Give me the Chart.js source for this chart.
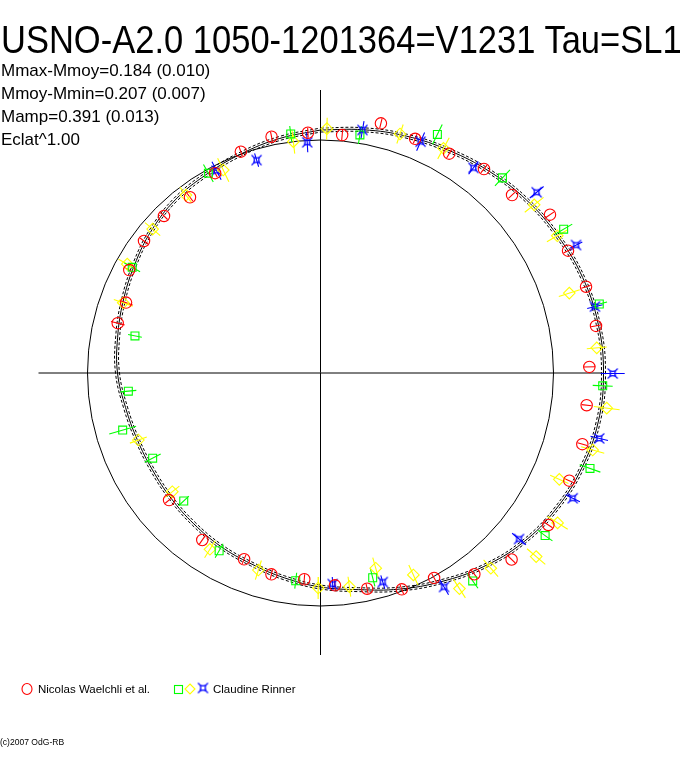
<!DOCTYPE html>
<html><head><meta charset="utf-8">
<script src="https://cdn.jsdelivr.net/npm/chart.js@4"></script>
<style>
html,body{margin:0;padding:0;background:#fff;}
#wrap{position:relative;width:688px;height:768px;overflow:hidden;background:#fff;}
#c{position:absolute;left:0;top:0;}
.t{position:absolute;white-space:nowrap;font-family:"Liberation Sans",Arial,sans-serif;color:#000;line-height:1;transform-origin:0 0;}
</style></head><body>
<div id="wrap">
<canvas id="c" width="688" height="768"></canvas>
<div class="t" style="left:1px;top:20px;font-size:39px;transform:scaleX(0.885)">USNO-A2.0 1050-1201364=V1231 Tau=SL1</div>
<div class="t" style="left:1px;top:62px;font-size:17px">Mmax-Mmoy=0.184 (0.010)</div>
<div class="t" style="left:1px;top:85px;font-size:17px">Mmoy-Mmin=0.207 (0.007)</div>
<div class="t" style="left:1px;top:108px;font-size:17px">Mamp=0.391 (0.013)</div>
<div class="t" style="left:1px;top:131px;font-size:17px">Eclat^1.00</div>
<div class="t" style="left:38px;top:684px;font-size:11.5px">Nicolas Waelchli et al.</div>
<div class="t" style="left:213px;top:684px;font-size:11.5px">Claudine Rinner</div>
<div class="t" style="left:0px;top:738px;font-size:9px;transform:scaleX(0.95)">(c)2007 OdG-RB</div>
</div>
<script>
// ---- data (phase angle in degrees, clockwise from top; radius in plot units) ----
const REF_RADIUS = 233;
const FIT_PHASE = [0,10,20,30,40,50,60,70,80,90,100,110,120,130,140,150,160,170,180,190,200,210,220,230,240,250,260,270,280,290,300,310,320,330,340,350];
const FIT_R     = [243,247,252,257,263,269,274,279,282,283,282,278,272,264,253,241,230,220,214,208,203,200,197,195,194,195,198,203,206,210,215,221,226,229,233,238];
const FIT_R_LOW = [241,245,250,255,261,267,272,277,280,281,280,276,270,262,251,239,228,218,212,206,201,198,195,193,192,193,196,201,204,208,213,219,224,227,231,236];
const FIT_R_HIGH= [245,249,254,259,265,271,276,281,284,285,284,280,274,266,255,243,232,222,216,210,205,202,199,197,196,197,200,205,208,212,217,223,228,231,235,240];

const WAEL_PHASE = [348.3,357.0,5.2,13.6,22.0,30.4,38.7,47.1,55.4,63.7,72.0,80.3,88.7,96.9,105.2,113.4,123.7,134.3,142.6,151.0,159.4,167.8,176.1,184.5,193.7,202.3,215.3,230.0,283.8,289.9,298.3,306.8,315.1,323.4,332.2,340.2];
const WAEL_R     = [241.3,240.6,239.0,256.9,252.6,254.3,261.4,261.5,278.8,276.1,279.2,279.5,268.9,268.1,271.3,271.1,273.9,267.0,253.3,234.3,231.1,220.7,212.8,206.9,207.2,201.3,204.6,197.7,208.8,206.8,217.2,220.4,221.7,218.9,225.9,235.2];
const WAEL_ERR   = [5,5,5,5,5,5,5,5,5,5,5,5,6,5,5,5,5,5,5,5,5,5,5,5,5,5,5,5,7,7,5,5,5,5,5,5];

const RIN_G_PHASE = [352.9,330.7,299.3,281.3,9.4,26.1,43.0,59.4,76.1,92.6,109.5,125.9,143.8,165.7,186.8,209.7,226.9,243.1,253.9,264.6];
const RIN_G_R     = [240.9,229.1,215.9,189.2,241.3,265.7,266.8,282.5,287.2,282.5,285.9,277.3,257.7,211.3,209.2,204.6,187.3,188.2,205.9,193.0];
const RIN_G_ERR   = [8,10,9,7,9,11,11,10,8,10,11,9,9,9,8,8,7,9,14,8];

const RIN_Y_PHASE = [1.5,353.3,334.4,322.9,310.6,299.4,289.6,18.4,28.7,51.8,59.9,72.2,84.8,97.0,105.8,114.0,122.3,130.4,138.9,147.2,155.3,164.2,172.3,180.6,197.5,212.1,231.3,249.8];
const RIN_Y_R     = [244.4,232.9,225.1,223.1,221.1,221.8,209.4,251.9,256.1,271.9,273.7,261.3,277.4,288.4,282.9,261.4,280.5,283.2,259.1,256.5,222.3,202.9,215.6,215.0,206.6,208.1,189.9,194.1];
const RIN_Y_ERR   = [11,12,13,10,10,10,10,10,12,12,12,11,10,13,12,10,12,12,11,11,11,11,10,11,10,10,9,9];

const RIN_B_PHASE = [356.7,343.3,332.8,9.8,23.4,36.7,50.1,63.4,76.4,90.1,103.2,116.4,129.9,150.0,163.4,176.7];
const RIN_B_R     = [231.1,222.3,227.4,246.6,252.1,255.9,281.8,285.8,282.4,292.2,286.3,281.6,258.8,247.1,218.1,211.4];
const RIN_B_ERR   = [10,7,10,9,10,8,9,7,8,12,9,8,9,9,7,7];

const AXIS_HALF = 282;

// ---- helpers ----
const D2R = Math.PI/180;
function polar(th, r){ return {x: r*Math.sin(th*D2R), y: r*Math.cos(th*D2R)}; }
function pts(ph, r){ return ph.map((t,i)=>polar(t, r[i])); }
function closed(ph, r){ const a = pts(ph, r); a.push(a[0]); return a; }
function errSegs(ph, r, e){
  const out=[];
  ph.forEach((t,i)=>{ out.push(polar(t, r[i]-e[i]), polar(t, r[i]+e[i]), {x:null,y:null}); });
  return out;
}

// blue marker image
function starImg(){
  const s=document.createElement('canvas'); s.width=13; s.height=13;
  const g=s.getContext('2d'); const c=6.5;
  g.strokeStyle='#0000ff'; g.lineWidth=1.1;
  g.beginPath();
  g.moveTo(c-3,c-3); g.quadraticCurveTo(c,c-1.2,c+3,c-3);
  g.quadraticCurveTo(c+1.2,c,c+3,c+3);
  g.quadraticCurveTo(c,c+1.2,c-3,c+3);
  g.quadraticCurveTo(c-1.2,c,c-3,c-3);
  g.moveTo(c-3,c-3); g.lineTo(c-5,c-5);
  g.moveTo(c+3,c-3); g.lineTo(c+5,c-5);
  g.moveTo(c+3,c+3); g.lineTo(c+5,c+5);
  g.moveTo(c-3,c+3); g.lineTo(c-5,c+5);
  g.stroke();
  return s;
}
const STAR = starImg();

const RED='#ff0000', GREEN='#00ff00', YELLOW='#ffff00', BLUE='#0000ff';

const CX=320.5, CY=373, SPAN=312;

const refCircle = {
  id:'refCircle',
  beforeDatasetsDraw(chart){
    const {ctx, scales:{x,y}} = chart;
    const cx=x.getPixelForValue(0), cy=y.getPixelForValue(0);
    const rad=x.getPixelForValue(REF_RADIUS)-cx;
    ctx.save(); ctx.beginPath(); ctx.arc(cx,cy,rad,0,Math.PI*2);
    ctx.strokeStyle='#000'; ctx.lineWidth=1; ctx.stroke(); ctx.restore();
  },
  afterDraw(chart){
    const ctx=chart.ctx; ctx.save(); ctx.lineWidth=1.1;
    // legend glyphs
    ctx.strokeStyle=RED; ctx.beginPath(); ctx.ellipse(27,689,5,5.5,0,0,Math.PI*2); ctx.stroke();
    ctx.strokeStyle=GREEN; ctx.strokeRect(174.5,685.5,8,8);
    ctx.strokeStyle=YELLOW; ctx.beginPath(); ctx.moveTo(190,684); ctx.lineTo(195,689); ctx.lineTo(190,694); ctx.lineTo(185,689); ctx.closePath(); ctx.stroke();
    ctx.drawImage(STAR, 203-6.5, 688-6.5);
    ctx.restore();
  }
};

const line = (data, color, extra) => Object.assign({type:'line', data, borderColor:color, borderWidth:1, pointRadius:0, showLine:true, spanGaps:false, fill:false, tension:0, clip:false}, extra||{});
const marks = (data, color, style, r) => ({type:'scatter', data, pointStyle:style, pointRadius:r, pointBorderColor:color, pointBackgroundColor:'rgba(0,0,0,0)', pointBorderWidth:1.1, showLine:false, clip:false});

new Chart(document.getElementById('c'), {
  data:{datasets:[
    marks(pts(WAEL_PHASE,WAEL_R), RED, 'circle', 5.7),
    marks(pts(RIN_G_PHASE,RIN_G_R), GREEN, 'rect', 5.6),
    marks(pts(RIN_Y_PHASE,RIN_Y_R), YELLOW, 'rectRot', 5.8),
    marks(pts(RIN_B_PHASE,RIN_B_R), BLUE, STAR, 6),
    line(errSegs(WAEL_PHASE,WAEL_R,WAEL_ERR), RED, {borderWidth:1.1}),
    line(errSegs(RIN_G_PHASE,RIN_G_R,RIN_G_ERR), GREEN, {borderWidth:1.1}),
    line(errSegs(RIN_Y_PHASE,RIN_Y_R,RIN_Y_ERR), YELLOW, {borderWidth:1.1}),
    line(errSegs(RIN_B_PHASE,RIN_B_R,RIN_B_ERR), BLUE, {borderWidth:1.1}),
    line(closed(FIT_PHASE,FIT_R), '#000', {tension:0.4}),
    line(closed(FIT_PHASE,FIT_R_LOW), '#000', {tension:0.4, borderDash:[3,2]}),
    line(closed(FIT_PHASE,FIT_R_HIGH), '#000', {tension:0.4, borderDash:[3,2]}),
    line([{x:-AXIS_HALF,y:0},{x:AXIS_HALF,y:0}], '#000'),
    line([{x:0,y:-AXIS_HALF},{x:0,y:AXIS_HALF+1}], '#000')
  ]},
  options:{
    responsive:false, animation:false, devicePixelRatio:1,
    layout:{padding:{left:CX-SPAN, right:688-CX-SPAN, top:CY-SPAN, bottom:768-CY-SPAN}},
    scales:{
      x:{type:'linear', min:-SPAN, max:SPAN, display:false},
      y:{type:'linear', min:-SPAN, max:SPAN, display:false}
    },
    plugins:{legend:{display:false}, tooltip:{enabled:false}, title:{display:false}}
  },
  plugins:[refCircle]
});
</script>
</body></html>
